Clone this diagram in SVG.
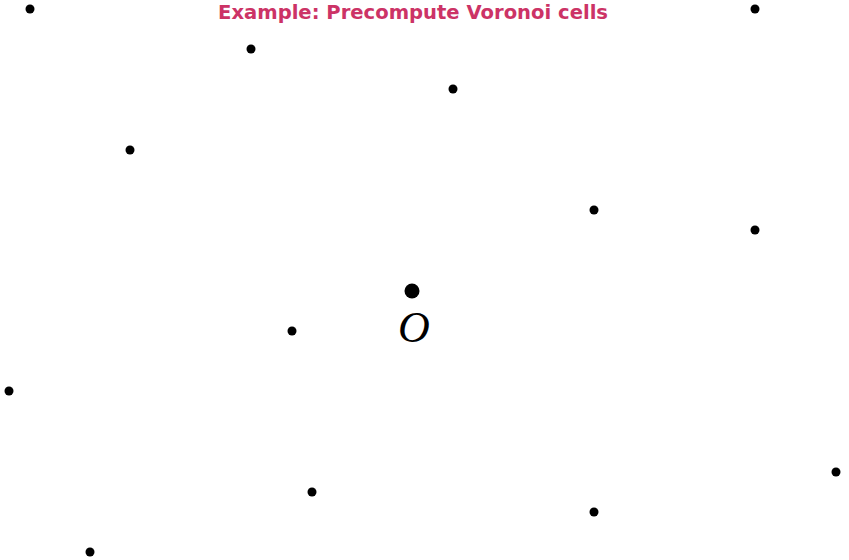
<svg xmlns="http://www.w3.org/2000/svg" width="849" height="560" viewBox="0 0 849 560">
<style>
.title{font-family:"DejaVu Sans","Liberation Sans",sans-serif;font-weight:bold;font-size:19px;fill:#cc3366}
.pt{fill:#000}
.lbl{font-family:"Liberation Serif",serif;font-style:italic;font-size:44px;fill:#000}
</style>
<rect width="849" height="560" fill="#fff"/>
<text class="title" x="413" y="19" text-anchor="middle" textLength="390" lengthAdjust="spacingAndGlyphs">Example: Precompute Voronoi cells</text>
<g id="points">
<circle class="pt" cx="30" cy="9" r="4.5"/>
<circle class="pt" cx="251" cy="49" r="4.5"/>
<circle class="pt" cx="453" cy="89" r="4.5"/>
<circle class="pt" cx="755" cy="9" r="4.5"/>
<circle class="pt" cx="130" cy="150" r="4.5"/>
<circle class="pt" cx="594" cy="210" r="4.5"/>
<circle class="pt" cx="755" cy="230" r="4.5"/>
<circle class="pt" cx="292" cy="331" r="4.5"/>
<circle class="pt" cx="9" cy="391" r="4.5"/>
<circle class="pt" cx="836" cy="472" r="4.5"/>
<circle class="pt" cx="312" cy="492" r="4.5"/>
<circle class="pt" cx="594" cy="512" r="4.5"/>
<circle class="pt" cx="90" cy="552" r="4.5"/>
</g>
<g id="origin">
<circle class="pt" cx="412" cy="291" r="7.5"/>
<text class="lbl" x="414" y="342" text-anchor="middle">O</text>
</g>
</svg>
